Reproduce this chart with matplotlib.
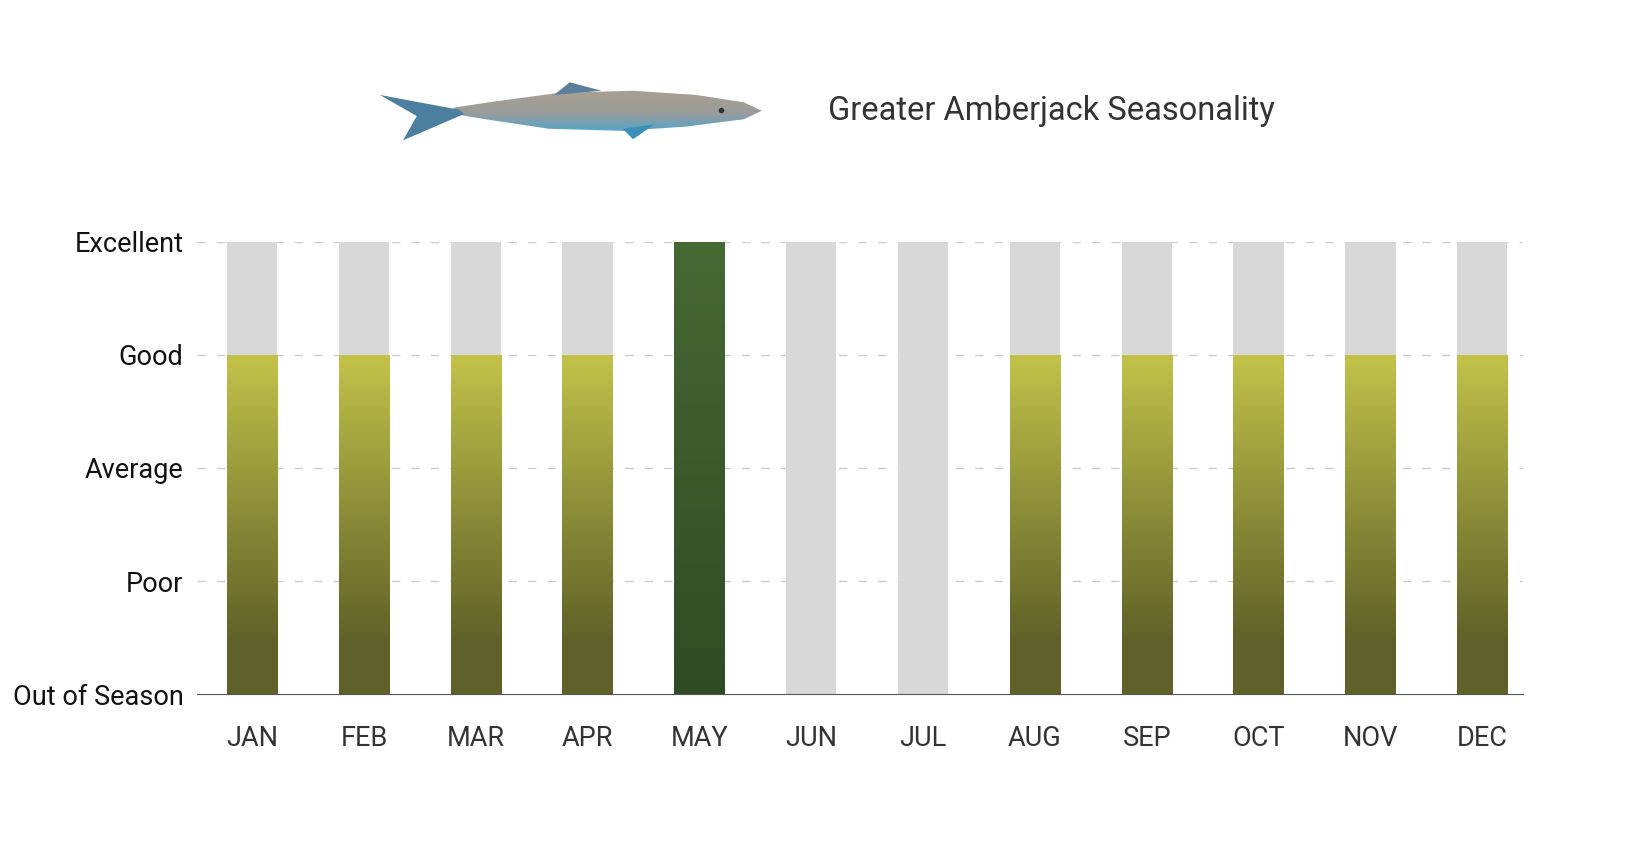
import numpy as np
import matplotlib
matplotlib.use("Agg")
import matplotlib.pyplot as plt
from matplotlib.patches import Rectangle, Polygon
from matplotlib.colors import LinearSegmentedColormap

months = ["JAN","FEB","MAR","APR","MAY","JUN","JUL","AUG","SEP","OCT","NOV","DEC"]
values = [3,3,3,3,4,0,0,3,3,3,3,3]
levels = ["Out of Season","Poor","Average","Good","Excellent"]
title = "Greater Amberjack Seasonality"

plt.rcParams["font.family"] = "Roboto"
W, H = 1646, 850
S = 1646/1560
fig = plt.figure(figsize=(W/100, H/100), dpi=100)
ax = fig.add_axes([187*S/W, 1-658*S/H, (1443-187)*S/W, (658-229)*S/H])
ax.set_xlim(-0.49, 11.36)
ax.set_ylim(0, 4)

bw = 0.45
cm_good = LinearSegmentedColormap.from_list("g", ["#5f6128", "#c2c24a"])
cm_exc = LinearSegmentedColormap.from_list("e", ["#2f4b24", "#456a34"])
grad = np.linspace(0, 1, 256).reshape(-1, 1)
for i, v in enumerate(values):
    ax.add_patch(Rectangle((i-bw/2, 0), bw, 4, color="#d8d8d8", zorder=1, lw=0))
    if v > 0:
        cm = cm_exc if v == 4 else cm_good
        g = np.clip((grad - (0.15 if v == 3 else 0)) / (0.85 if v == 3 else 1), 0, 1)
        r = Rectangle((i-bw/2, 0), bw, v, facecolor="none", lw=0)
        ax.add_patch(r)
        im = ax.imshow(g, cmap=cm, vmin=0, vmax=1, origin="lower", aspect="auto",
                       extent=[i-bw/2, i+bw/2, 0, v], zorder=2)
        im.set_clip_path(r)
for y in range(1, 5):
    ax.axhline(y, color="#cccccc", ls=(0, (6, 8)), lw=1, zorder=0)
ax.set_yticks(range(5))
ax.set_yticklabels(levels, fontsize=19.5, color="#111111")
ax.set_xticks(range(12))
ax.set_xticklabels(months, fontsize=19.5, color="#333333")
ax.tick_params(axis="y", length=0, pad=10)
ax.tick_params(axis="x", length=0, pad=22)
for s in ["top", "right", "left"]:
    ax.spines[s].set_visible(False)
ax.spines["bottom"].set_color("#555555")

fig.text(785*S/W, 1-105*S/H, title, fontsize=23.5, color="#333333", va="center", ha="left")

# simple fish drawing
fax = fig.add_axes([350*S/W, 1-140*S/H, 380*S/W, 70*S/H])
body = [(430,102),(470,96),(530,88),(600,86),(660,90),(705,97),(722,105),(705,113),
        (650,120),(590,124),(520,122),(460,113),(430,108)]
tail = [(435,104),(360,90),(395,110),(382,133),(440,108)]
dfin = [(525,90),(540,78),(570,86)]
vfin = [(590,122),(620,118),(600,132)]
for pts, c in [(tail, "#4a7fa0"), (dfin, "#5a7f9a"), (vfin, "#3a90b8")]:
    fax.add_patch(Polygon(pts, closed=True, color=c, lw=0))
bp = Polygon(body, closed=True, facecolor="none", lw=0)
fax.add_patch(bp)
cm_f = LinearSegmentedColormap.from_list("f", ["#3fa8d8", "#9a9c9c", "#a9a090"])
im = fax.imshow(grad, cmap=cm_f, origin="lower", aspect="auto", extent=[350, 730, 130, 85])
im.set_clip_path(bp)
fax.set_xlim(350, 730); fax.set_ylim(140, 70); fax.axis("off")
fax.plot([683], [104], "o", color="#333333", ms=3)

fig.savefig("out.png", dpi=100)
